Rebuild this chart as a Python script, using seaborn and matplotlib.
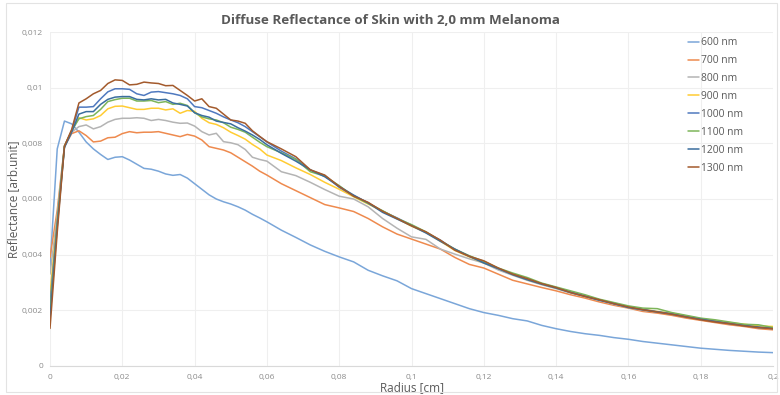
import numpy as np
import pandas as pd
import matplotlib
matplotlib.use("Agg")
import matplotlib.pyplot as plt
from matplotlib.patches import Rectangle
from matplotlib.ticker import FuncFormatter
import seaborn as sns

# Radial sampling positions [cm]: fine steps near the source, coarser further out
radius = np.round(np.r_[np.arange(0.0, 0.0601, 0.002), np.arange(0.064, 0.2001, 0.004)], 3)

wavelengths = ["600 nm", "700 nm", "800 nm", "900 nm", "1000 nm", "1100 nm", "1200 nm", "1300 nm"]

# Diffuse reflectance per wavelength, in units of 1e-3 (arb. unit)
refl_600 = [3.56, 7.8, 8.8, 8.7, 8.4, 8.05, 7.8, 7.6, 7.42, 7.5, 7.52, 7.4, 7.25, 7.1, 7.07, 7.0,
            6.9, 6.85, 6.88, 6.75, 6.55, 6.35, 6.15, 6.0, 5.9, 5.82, 5.72, 5.6, 5.45, 5.32, 5.18,
            4.88, 4.62, 4.35, 4.12, 3.92, 3.74, 3.44, 3.24, 3.06, 2.78, 2.6, 2.42, 2.24, 2.06, 1.92,
            1.82, 1.70, 1.62, 1.46, 1.34, 1.24, 1.16, 1.10, 1.02, 0.96, 0.88, 0.82, 0.76, 0.70, 0.64,
            0.60, 0.56, 0.53, 0.50, 0.48]
refl_700 = [3.9, 5.6, 7.9, 8.35, 8.45, 8.28, 8.05, 8.08, 8.2, 8.22, 8.35, 8.42, 8.38, 8.4, 8.4, 8.42,
            8.36, 8.3, 8.24, 8.32, 8.26, 8.12, 7.88, 7.82, 7.76, 7.66, 7.5, 7.34, 7.18, 7.0, 6.86,
            6.55, 6.3, 6.05, 5.8, 5.68, 5.55, 5.3, 5.0, 4.74, 4.56, 4.38, 4.2, 3.9, 3.65, 3.52,
            3.3, 3.08, 2.95, 2.82, 2.7, 2.56, 2.44, 2.3, 2.18, 2.08, 1.96, 1.9, 1.82, 1.72, 1.64,
            1.56, 1.48, 1.42, 1.34, 1.3]
refl_800 = [3.3, 5.4, 7.9, 8.4, 8.6, 8.66, 8.52, 8.6, 8.76, 8.86, 8.9, 8.9, 8.92, 8.9, 8.82, 8.86,
            8.82, 8.76, 8.72, 8.73, 8.62, 8.42, 8.3, 8.36, 8.06, 8.02, 7.95, 7.78, 7.5, 7.42, 7.36,
            6.98, 6.84, 6.6, 6.34, 6.1, 6.0, 5.72, 5.3, 4.95, 4.64, 4.55, 4.2, 4.02, 3.85, 3.7,
            3.45, 3.26, 3.08, 2.92, 2.78, 2.62, 2.5, 2.36, 2.22, 2.1, 2.0, 1.94, 1.86, 1.76, 1.67,
            1.6, 1.52, 1.45, 1.38, 1.34]
refl_900 = [2.6, 5.3, 7.9, 8.45, 8.92, 8.84, 8.88, 9.0, 9.24, 9.33, 9.34, 9.28, 9.22, 9.22, 9.26, 9.26,
            9.2, 9.24, 9.08, 9.18, 9.15, 8.9, 8.74, 8.68, 8.56, 8.4, 8.28, 8.15, 7.96, 7.8, 7.58,
            7.38, 7.12, 6.88, 6.6, 6.35, 6.08, 5.82, 5.56, 5.3, 5.02, 4.8, 4.48, 4.15, 3.92, 3.7,
            3.5, 3.3, 3.1, 2.95, 2.8, 2.66, 2.5, 2.38, 2.26, 2.12, 2.04, 1.96, 1.9, 1.8, 1.7,
            1.63, 1.56, 1.5, 1.44, 1.42]
refl_1000 = [2.2, 5.2, 7.9, 8.45, 9.3, 9.3, 9.32, 9.6, 9.85, 9.96, 9.96, 9.94, 9.78, 9.72, 9.84, 9.86,
             9.82, 9.78, 9.72, 9.6, 9.32, 9.28, 9.18, 9.08, 8.95, 8.84, 8.74, 8.6, 8.42, 8.24, 8.05,
             7.72, 7.44, 7.04, 6.84, 6.42, 6.12, 5.86, 5.56, 5.32, 5.06, 4.8, 4.52, 4.18, 3.95, 3.72,
             3.5, 3.3, 3.12, 2.96, 2.82, 2.66, 2.52, 2.38, 2.24, 2.12, 2.03, 1.95, 1.88, 1.78, 1.68,
             1.6, 1.53, 1.46, 1.38, 1.36]
refl_1100 = [1.95, 5.1, 7.9, 8.45, 8.88, 8.96, 9.0, 9.22, 9.5, 9.57, 9.62, 9.62, 9.52, 9.52, 9.54, 9.46,
             9.5, 9.4, 9.44, 9.36, 9.1, 8.95, 8.88, 8.84, 8.74, 8.58, 8.5, 8.4, 8.22, 8.04, 7.88,
             7.66, 7.42, 6.98, 6.82, 6.48, 6.1, 5.84, 5.58, 5.3, 5.08, 4.82, 4.5, 4.2, 3.96, 3.76,
             3.52, 3.34, 3.18, 2.98, 2.84, 2.7, 2.56, 2.4, 2.28, 2.16, 2.08, 2.06, 1.92, 1.82, 1.72,
             1.66, 1.58, 1.5, 1.48, 1.38]
refl_1200 = [1.7, 5.0, 7.85, 8.4, 9.05, 9.14, 9.14, 9.4, 9.58, 9.66, 9.68, 9.68, 9.58, 9.56, 9.6, 9.56,
             9.58, 9.45, 9.4, 9.34, 9.1, 9.0, 8.94, 8.8, 8.75, 8.7, 8.56, 8.44, 8.3, 8.14, 7.95,
             7.64, 7.36, 7.05, 6.8, 6.45, 6.14, 5.86, 5.52, 5.28, 5.04, 4.78, 4.48, 4.2, 3.94, 3.7,
             3.5, 3.28, 3.1, 2.94, 2.8, 2.64, 2.5, 2.36, 2.24, 2.1, 2.02, 1.94, 1.86, 1.76, 1.68,
             1.6, 1.52, 1.45, 1.4, 1.34]
refl_1300 = [1.35, 4.8, 7.9, 8.5, 9.45, 9.6, 9.78, 9.9, 10.15, 10.28, 10.26, 10.1, 10.12, 10.2, 10.17, 10.15,
             10.07, 10.08, 9.9, 9.72, 9.52, 9.6, 9.32, 9.26, 9.05, 8.84, 8.8, 8.72, 8.45, 8.25, 8.06,
             7.8, 7.52, 7.05, 6.86, 6.45, 6.1, 5.88, 5.56, 5.3, 5.04, 4.82, 4.52, 4.16, 3.94, 3.78,
             3.52, 3.3, 3.14, 2.96, 2.82, 2.64, 2.5, 2.38, 2.24, 2.12, 2.02, 1.94, 1.86, 1.76, 1.66,
             1.58, 1.52, 1.44, 1.38, 1.34]

series = [refl_600, refl_700, refl_800, refl_900, refl_1000, refl_1100, refl_1200, refl_1300]
colors = ["#7AA6D9", "#EE8A4E", "#B4B4B4", "#FFCC33", "#4F79BF", "#7DB55A", "#3A6E9E", "#A35A2C"]

df = pd.concat(
    [pd.DataFrame({"radius": radius, "reflectance": np.array(vals) * 1e-3, "wavelength": wl})
     for wl, vals in zip(wavelengths, series)],
    ignore_index=True,
)

sns.set_theme(style="white")
plt.rcParams["font.family"] = ["Open Sans", "DejaVu Sans"]

fig = plt.figure(figsize=(7.8, 3.95), dpi=100)
ax = fig.add_axes([50 / 780, 29 / 395, 723 / 780, 334 / 395])

sns.lineplot(data=df, x="radius", y="reflectance", hue="wavelength", hue_order=wavelengths,
             palette=colors, linewidth=1.1, estimator=None, sort=False, ax=ax)

ax.set_xlim(0, 0.2)
ax.set_ylim(0, 0.012)
ax.set_xticks(np.linspace(0, 0.2, 11))
ax.set_yticks(np.linspace(0, 0.012, 7))

comma = FuncFormatter(lambda v, _: ("%g" % round(v, 4)).replace(".", ","))
ax.xaxis.set_major_formatter(comma)
ax.yaxis.set_major_formatter(comma)
ax.tick_params(axis="both", labelsize=6, colors="#8C8C8C", length=0)
ax.tick_params(axis="x", pad=6)
ax.tick_params(axis="y", pad=5)

ax.grid(True, color="#EFEFEF", linewidth=0.8)
for side in ("top", "right", "left"):
    ax.spines[side].set_visible(False)
ax.spines["bottom"].set_color("#D9D9D9")
ax.spines["bottom"].set_linewidth(0.8)

ax.set_xlabel("Radius [cm]", fontsize=8.5, color="#595959")
ax.xaxis.set_label_coords(0.5, -15 / 334)
ax.set_ylabel("Reflectance [arb.unit]", fontsize=8.5, color="#595959")
ax.yaxis.set_label_coords(-30 / 723, 0.5)

fig.text(0.5, (395 - 20) / 395, "Diffuse Reflectance of Skin with 2,0 mm Melanoma",
         ha="center", va="center", fontsize=9.6, fontweight="bold", color="#595959")

leg = ax.legend(loc="upper left", bbox_to_anchor=(684 / 780, (395 - 33) / 395),
                bbox_transform=fig.transFigure, frameon=False, fontsize=7.4,
                handlelength=1.1, handletextpad=0.2, labelspacing=0.68, borderaxespad=0)
for t in leg.get_texts():
    t.set_color("#595959")

fig.patches.append(Rectangle((6 / 780, 3 / 395), 771 / 780, 389 / 395, fill=False,
                             edgecolor="#E3E3E3", linewidth=0.8, transform=fig.transFigure))

fig.savefig("out.png", dpi=100)
